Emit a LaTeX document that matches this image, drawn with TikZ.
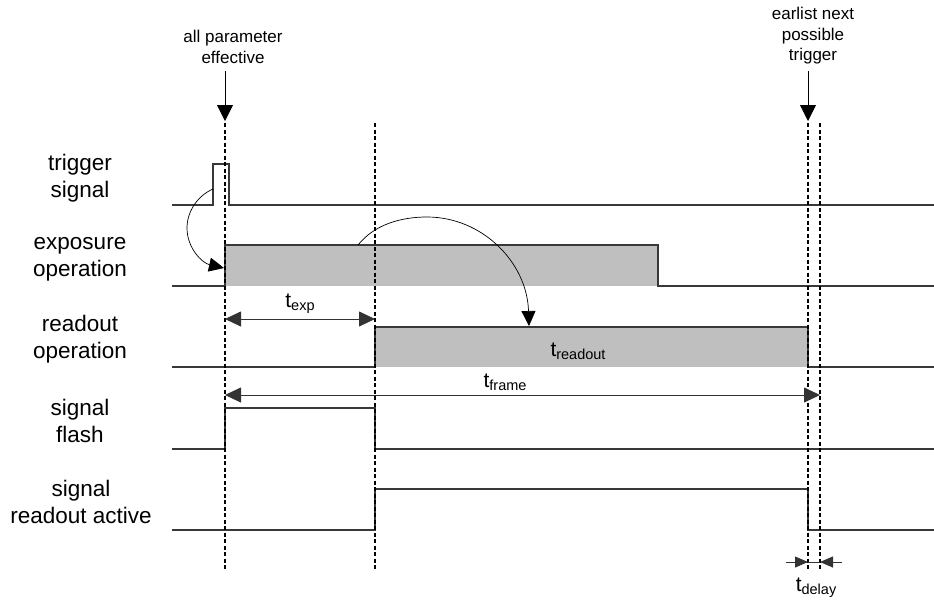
\documentclass[tikz,border=0pt]{standalone}
\usepackage{fontspec}
\setmainfont{Liberation Sans}
\usetikzlibrary{arrows.meta}
\newcommand\tlab[2]{{\fontsize{21}{21}\selectfont #1}\raisebox{-0.28em}{\fontsize{14.5}{14.5}\selectfont #2}}
\begin{document}
\begin{tikzpicture}[x=1pt,y=-1pt,
  sig/.style={draw=black!78,line width=1.1pt,line join=miter},
  boxfill/.style={fill=black!25,draw=none},
  guide/.style={draw=black,line width=1.3pt,dash pattern=on 4pt off 2.5pt},
  bigtip/.style={-{Triangle[length=16pt,width=16pt]},line width=0.8pt},
  dimarrow/.style={{Triangle[length=16pt,width=15pt]}-{Triangle[length=16pt,width=15pt]},line width=0.8pt,draw=black!80},
  smalltip/.style={-{Triangle[length=13pt,width=11pt]},line width=0.8pt},
  curvetip/.style={-{Triangle[length=15pt,width=14pt]},line width=0.7pt},
  lbl/.style={align=center,font=\fontsize{22.5}{27}\selectfont,inner sep=0pt},
  toplbl/.style={align=center,font=\fontsize{17}{20.5}\selectfont,inner sep=0pt},
  tl/.style={inner sep=0pt}]
\useasboundingbox (0,0) rectangle (934,603);

% row labels
\node[lbl] (ltrig) at (80,178) {trigger\\signal};
\node[lbl] (lexp) at (80,259) {exposure\\operation};
\node[lbl] (lread) at (80,339) {readout\\operation};
\node[lbl] (lflash) at (80,421) {signal\\flash};
\node[lbl] (lact) at (81,502) {signal\\readout active};

% top labels
\node[toplbl] (tparam) at (233,47) {all parameter\\effective};
\node[toplbl] (tnext) at (813,36) {earlist next\\possible\\trigger};

% filled areas
\fill[boxfill] (225,245) rectangle (658,286);
\fill[boxfill] (375,327) rectangle (808,367);

% signals
\draw[sig] (172,205) -- (213,205) -- (213,164) -- (229,164) -- (229,205) -- (934,205);
\draw[sig] (172,286) -- (225,286) -- (225,245) -- (658,245) -- (658,286) -- (934,286);
\draw[sig] (172,367) -- (375,367) -- (375,327) -- (808,327) -- (808,367) -- (934,367);
\draw[sig] (172,449) -- (225,449) -- (225,408) -- (375,408) -- (375,449) -- (934,449);
\draw[sig] (172,530) -- (375,530) -- (375,489) -- (808,489) -- (808,530) -- (934,530);

% guides
\coordinate (g1t) at (225,123); \coordinate (g1b) at (225,570);
\coordinate (g2t) at (375,123); \coordinate (g2b) at (375,570);
\coordinate (g3t) at (808,123); \coordinate (g3b) at (808,570);
\coordinate (g4t) at (820,123); \coordinate (g4b) at (820,570);
\draw[guide] (g1t) -- (g1b);
\draw[guide] (g2t) -- (g2b);
\draw[guide] (g3t) -- (g3b);
\draw[guide] (g4t) -- (g4b);

% top arrows
\coordinate (a1s) at (225,71); \coordinate (a1e) at (225,121);
\coordinate (a2s) at (808,71); \coordinate (a2e) at (808,121);
\draw[bigtip] (a1s) -- (a1e);
\draw[bigtip] (a2s) -- (a2e);

% dimension arrows
\coordinate (ex1) at (225,319); \coordinate (ex2) at (375,319);
\draw[dimarrow] (ex1) -- (ex2);
\node[tl] (texp) at (300,304) {\tlab{t}{exp}};

\coordinate (fr1) at (225,395); \coordinate (fr2) at (820,395);
\draw[dimarrow] (fr1) -- (fr2);
\node[tl] (tframe) at (505,382) {\tlab{t}{frame}};

\node[tl] (tread) at (578,351) {\tlab{t}{readout}};

\coordinate (d0) at (786,562); \coordinate (d1) at (808,562);
\coordinate (d2) at (820,562); \coordinate (d3) at (842,562);
\draw[line width=0.8pt,black!80] (d1) -- (d2);
\draw[smalltip,black!80] (d0) -- (d1);
\draw[smalltip,black!80] (d3) -- (d2);
\node[tl] (tdelay) at (816,588) {\tlab{t}{delay}};

% curved arrows
\coordinate (c1s) at (213,189); \coordinate (c1m) at (187,228); \coordinate (c1e) at (224,268);
\draw[curvetip] (c1s) .. controls (197,196) and (187,212) .. (c1m) .. controls (187,248) and (202,263) .. (c1e);
\coordinate (c2s) at (358,245); \coordinate (c2m) at (427,217); \coordinate (c2e) at (529,326);
\draw[curvetip] (c2s) .. controls (374,225) and (400,217) .. (c2m) .. controls (482,217) and (527,262) .. (c2e);
\end{tikzpicture}
\end{document}
